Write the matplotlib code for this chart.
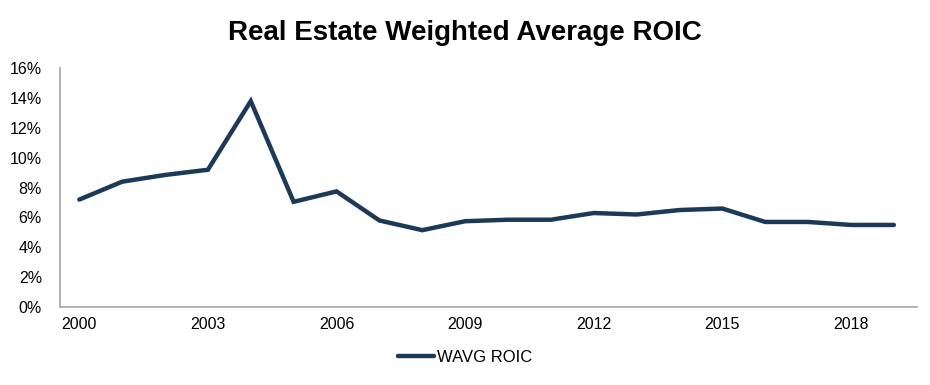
import matplotlib
matplotlib.use("Agg")
import matplotlib.pyplot as plt
from matplotlib.ticker import FuncFormatter, MultipleLocator

years = list(range(2000, 2020))
roic = [7.2, 8.4, 8.85, 9.2, 13.8, 7.05, 7.75, 5.8, 5.15, 5.75,
        5.85, 5.85, 6.3, 6.2, 6.5, 6.6, 5.7, 5.7, 5.5, 5.5]
tick_years = [2000, 2003, 2006, 2009, 2012, 2015, 2018]
series_name = "WAVG ROIC"
title = "Real Estate Weighted Average ROIC"

plt.rcParams['font.family'] = ['Liberation Sans', 'DejaVu Sans']

fig = plt.figure(figsize=(9.3, 3.85), dpi=100)
ax = fig.add_axes([0.0645, 0.2026, 0.922, 0.62])

color = '#1C3A57'
ax.plot(years, roic, color=color, lw=3.2, solid_capstyle='round',
        solid_joinstyle='miter', label=series_name)

ax.set_xlim(years[0] - 0.45, years[-1] + 0.55)
ax.set_ylim(0, 16)
ax.yaxis.set_major_locator(MultipleLocator(2))
ax.yaxis.set_major_formatter(FuncFormatter(lambda v, p: f"{int(v)}%"))
ax.set_xticks(tick_years)
ax.set_xticklabels([str(y) for y in tick_years])

for s in ['top', 'right']:
    ax.spines[s].set_visible(False)
for s in ['left', 'bottom']:
    ax.spines[s].set_color('#A6A6A6')
    ax.spines[s].set_linewidth(1.2)
ax.tick_params(axis='both', length=0, labelsize=11.5, colors='black', pad=7)
ax.tick_params(axis='y', pad=13)

fig.text(0.5, 0.915, title, ha='center', va='center', fontsize=20,
         fontweight='bold')

fig.legend(loc='center', bbox_to_anchor=(0.5, 0.072), frameon=False,
           fontsize=12, handlelength=2.2, handletextpad=0.15)

fig.savefig("out.png", dpi=100)
